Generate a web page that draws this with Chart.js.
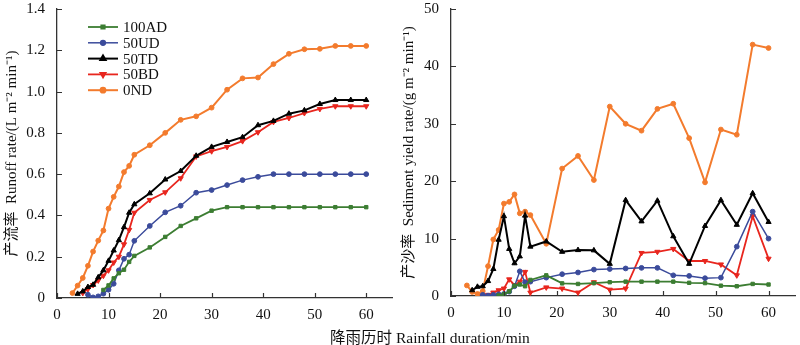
<!DOCTYPE html>
<html>
<head>
<meta charset="utf-8">
<script src="https://cdn.jsdelivr.net/npm/chart.js@4.4.1/dist/chart.umd.min.js"></script>
<style>
  body { margin: 0; background: #fff; }
  #wrap { position: relative; width: 800px; height: 345px; }
  #left { position: absolute; left: 0; top: 0; }
  #right { position: absolute; left: 400px; top: 0; }
  #xtitle { position: absolute; top: 325px; left: 0; width: 860px; text-align: center;
    font: 15.5px "Liberation Serif", "Noto Sans CJK SC", serif; color: #111; }
</style>
</head>
<body>
<div id="wrap">
  <canvas id="left" width="400" height="345"></canvas>
  <canvas id="right" width="400" height="345"></canvas>
  <div id="xtitle">降雨历时 Rainfall duration/min</div>
</div>
<script>
// rainfall duration (min)
const minutes = [3, 4, 5, 6, 7, 8, 9, 10, 11, 12, 13, 14, 15, 18, 21, 24, 27, 30, 33, 36, 39, 42, 45, 48, 51, 54, 57, 60];
const seriesNames = ['100AD', '50UD', '50TD', '50BD', '0ND'];

// runoff rate, L m-2 min-1
const runoff100AD = [null, null, null, null, null, null, 0.039, 0.061, 0.095, 0.12, 0.137, 0.175, 0.204, 0.245, 0.296, 0.349, 0.386, 0.423, 0.44, 0.44, 0.44, 0.44, 0.44, 0.44, 0.44, 0.44, 0.44, 0.44];
const runoff50UD = [null, null, null, 0.016, 0.003, 0.008, 0.021, 0.04, 0.069, 0.134, 0.19, 0.21, 0.277, 0.349, 0.415, 0.447, 0.51, 0.523, 0.547, 0.571, 0.587, 0.6, 0.6, 0.6, 0.6, 0.6, 0.6, 0.6];
const runoff50TD = [null, 0.02, 0.032, 0.053, 0.064, 0.1, 0.134, 0.18, 0.23, 0.28, 0.343, 0.413, 0.454, 0.507, 0.574, 0.615, 0.689, 0.732, 0.756, 0.779, 0.837, 0.858, 0.893, 0.909, 0.94, 0.959, 0.959, 0.959];
const runoff50BD = [null, null, 0.024, 0.043, 0.063, 0.085, 0.108, 0.134, 0.172, 0.2, 0.26, 0.33, 0.413, 0.475, 0.512, 0.58, 0.686, 0.711, 0.732, 0.76, 0.803, 0.853, 0.872, 0.896, 0.916, 0.929, 0.929, 0.929];
const runoff0ND = [0.024, 0.06, 0.097, 0.156, 0.225, 0.278, 0.327, 0.433, 0.49, 0.54, 0.61, 0.64, 0.694, 0.74, 0.8, 0.863, 0.88, 0.922, 1.009, 1.064, 1.068, 1.133, 1.183, 1.205, 1.207, 1.221, 1.221, 1.221];

// sediment yield rate, g m-2 min-1
const sed100AD = [null, null, null, null, null, null, 0.1, 0.3, 0.8, 1.8, 2.0, 1.7, 2.8, 3.6, 2.2, 2.1, 2.25, 2.4, 2.5, 2.5, 2.5, 2.5, 2.3, 2.25, 1.8, 1.7, 2.1, 2.0];
const sed50UD = [null, null, null, 0.2, 0.06, 0.2, 0.3, 0.35, 0.75, 1.7, 4.3, 2.4, 2.5, 3.2, 3.8, 4.1, 4.6, 4.7, 4.8, 4.9, 4.9, 3.6, 3.5, 3.1, 3.2, 8.6, 14.7, 10.0];
const sed50TD = [null, 1.0, 1.6, 1.7, 2.6, 4.7, 9.8, 13.9, 8.2, 5.7, 6.9, 14.0, 8.6, 9.5, 7.7, 8.0, 7.95, 5.6, 16.7, 13.0, 16.6, 10.4, 5.6, 12.2, 16.7, 12.4, 17.9, 12.9];
const sed50BD = [null, null, null, 0.06, 0.2, 0.6, 1.0, 1.3, 2.9, 1.9, 2.5, 4.2, 0.6, 1.5, 1.3, 0.6, 2.4, 1.1, 1.3, 7.5, 7.7, 8.2, 6.1, 6.1, 5.5, 3.6, 13.9, 6.5];
const sed0ND = [1.84, 0.7, 0.35, 0.86, 5.2, 9.85, 11.5, 16.1, 16.4, 17.7, 14.4, 14.7, 14.1, 9.1, 22.2, 24.4, 20.2, 33.0, 30.0, 28.8, 32.6, 33.5, 27.5, 19.8, 29.0, 28.1, 43.8, 43.2];

const styles = [
  { color: '#3c7d32', pointStyle: 'rect', pointRadius: 2.4, rotation: 0, width: 1.8 },
  { color: '#3b4b9b', pointStyle: 'circle', pointRadius: 2.4, rotation: 0, width: 1.5 },
  { color: '#000000', pointStyle: 'triangle', pointRadius: 3, rotation: 0, width: 2 },
  { color: '#e8261e', pointStyle: 'triangle', pointRadius: 3, rotation: 180, width: 1.8 },
  { color: '#f37b2d', pointStyle: 'circle', pointRadius: 2.4, rotation: 0, width: 2 }
];

const FONT = '"Liberation Serif", "Noto Sans CJK SC", serif';

function toPoints(values) {
  const pts = [];
  values.forEach((v, i) => { if (v !== null) pts.push({ x: minutes[i], y: v }); });
  return pts;
}

function makeDatasets(list) {
  return list.map((vals, i) => ({
    label: seriesNames[i],
    data: toPoints(vals),
    borderColor: styles[i].color,
    backgroundColor: styles[i].color,
    borderWidth: styles[i].width,
    pointStyle: styles[i].pointStyle,
    pointRadius: styles[i].pointRadius,
    pointRotation: styles[i].rotation,
    pointBorderWidth: 1,
    tension: 0
  }));
}

// tick marks pointing into the plot
const innerTicks = {
  id: 'innerTicks',
  afterDraw(chart) {
    const { ctx, scales: { x, y } } = chart;
    ctx.save();
    ctx.strokeStyle = '#333';
    ctx.lineWidth = 1.2;
    ctx.beginPath();
    y.ticks.forEach(t => {
      const py = Math.round(y.getPixelForValue(t.value)) + 0.5;
      ctx.moveTo(x.left, py); ctx.lineTo(x.left + 5, py);
    });
    x.ticks.forEach(t => {
      const px = Math.round(x.getPixelForValue(t.value)) + 0.5;
      ctx.moveTo(px, y.bottom); ctx.lineTo(px, y.bottom - 5);
    });
    ctx.stroke();
    ctx.restore();
  }
};

// vertical legend inside the left plot
const sideLegend = {
  id: 'sideLegend',
  afterDraw(chart) {
    const ctx = chart.ctx;
    ctx.save();
    chart.data.datasets.forEach((ds, i) => {
      const yy = 27 + i * 15.8;
      ctx.strokeStyle = ds.borderColor;
      ctx.lineWidth = ds.borderWidth;
      ctx.beginPath(); ctx.moveTo(88, yy); ctx.lineTo(118, yy); ctx.stroke();
      ctx.fillStyle = ds.borderColor;
      Chart.helpers.drawPoint(ctx, { pointStyle: ds.pointStyle, radius: ds.pointRadius, rotation: ds.pointRotation, borderWidth: 1 }, 103, yy);
      ctx.fillStyle = '#111';
      ctx.font = '15px ' + FONT;
      ctx.textBaseline = 'middle';
      ctx.fillText(ds.label, 123, yy + 1);
    });
    ctx.restore();
  }
};

function makeConfig(datasets, yMax, yStep, yTitle, yWidth, xHeight, pad, titlePad, plugins, fmt) {
  return {
    type: 'line',
    data: { datasets: datasets },
    plugins: plugins,
    options: {
      responsive: false,
      animation: false,
      layout: { padding: pad },
      plugins: { legend: { display: false }, tooltip: { enabled: false } },
      scales: {
        x: {
          type: 'linear',
          min: 0, max: 65,
          afterFit(scale) { scale.height = xHeight; },
          grid: { display: false, drawTicks: true, tickLength: 8 },
          border: { color: '#333', width: 1.3 },
          ticks: { stepSize: 10, includeBounds: false, padding: 0, color: '#111', font: { family: FONT, size: 15 } }
        },
        y: {
          min: 0, max: yMax,
          afterFit(scale) { scale.width = yWidth; },
          grid: { display: false, drawTicks: true, tickLength: 12 },
          border: { color: '#333', width: 1.3 },
          ticks: { stepSize: yStep, padding: 0, color: '#111', font: { family: FONT, size: 15 }, callback: fmt },
          title: { display: true, text: yTitle, color: '#111', padding: { top: titlePad, bottom: 0 }, font: { family: FONT, size: 15 } }
        }
      }
    }
  };
}

new Chart(document.getElementById('left'), makeConfig(
  makeDatasets([runoff100AD, runoff50UD, runoff50TD, runoff50BD, runoff0ND]),
  1.4, 0.2, '产流率  Runoff rate/(L m⁻² min⁻¹)', 57, 47,
  { top: 8, right: 8, left: 0, bottom: 0 }, 3, [innerTicks, sideLegend],
  v => v === 0 ? '0' : v.toFixed(1)
));

new Chart(document.getElementById('right'), makeConfig(
  makeDatasets([sed100AD, sed50UD, sed50TD, sed50BD, sed0ND]),
  50, 10, '产沙率  Sediment yield rate/(g m⁻² min⁻¹)', 51, 49,
  { top: 7, right: 0, left: 0, bottom: 0 }, 0, [innerTicks],
  v => String(v)
));
</script>
</body>
</html>
